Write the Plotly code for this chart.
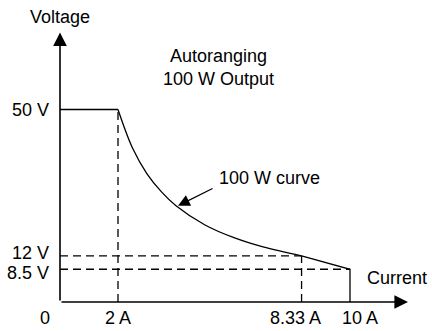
import plotly.graph_objects as go

FONT = "Arial, Liberation Sans, sans-serif"
FS = 18

# data
flat_current = [0, 2]
flat_voltage = [50, 50]
curve_current = [2, 2.5, 3, 3.5, 4, 5, 6, 7, 8.33]
curve_voltage = [50, 40, 33.3, 28.6, 25, 20, 16.7, 14.3, 12]
tail_current = [8.33, 10, 10]
tail_voltage = [12, 8.5, 0]
x_ticks = [0, 2, 8.33, 10]
x_ticktext = ["0", "2 A", "8.33 A", "10 A"]
x_label_shift = [-15, 0, -6, 10]
y_ticks = [8.5, 12, 50]
y_ticktext = ["8.5 V", "12 V", "50 V"]
y_label_shift = [-4, 3, 0]

fig = go.Figure()
line = dict(color="black", width=1.3)
dash = dict(color="black", width=1.3, dash="8px,5px")

# dashed guides
fig.add_trace(go.Scatter(x=[2, 2], y=[0, 50], mode="lines", line=dash))
fig.add_trace(go.Scatter(x=[0, 8.33], y=[12, 12], mode="lines", line=dash))
fig.add_trace(go.Scatter(x=[8.33, 8.33], y=[0, 12], mode="lines", line=dash))
fig.add_trace(go.Scatter(x=[0, 10], y=[8.5, 8.5], mode="lines", line=dash))
# solid characteristic
fig.add_trace(go.Scatter(x=flat_current, y=flat_voltage, mode="lines", line=line))
fig.add_trace(go.Scatter(x=curve_current, y=curve_voltage, mode="lines",
                         line=dict(color="black", width=1.3, shape="spline", smoothing=1.0)))
fig.add_trace(go.Scatter(x=tail_current, y=tail_voltage, mode="lines", line=line))

ann = []
# axes arrows
ann.append(dict(x=0, y=70, ax=0, ay=0, xref="x", yref="y", axref="x", ayref="y",
                text="", showarrow=True, arrowhead=2, arrowsize=1.7, arrowwidth=1.6,
                arrowcolor="black", standoff=0, startstandoff=0))
ann.append(dict(x=12.0, y=0, ax=0, ay=0, xref="x", yref="y", axref="x", ayref="y",
                text="", showarrow=True, arrowhead=2, arrowsize=1.7, arrowwidth=1.6,
                arrowcolor="black", standoff=0, startstandoff=0))
# pointer to curve
ann.append(dict(x=4.07, y=25.0, ax=36, ay=-18, xref="x", yref="y",
                text="", showarrow=True, arrowhead=2, arrowsize=1.8, arrowwidth=1.3,
                arrowcolor="black"))
# y tick labels
for v, t, s in zip(y_ticks, y_ticktext, y_label_shift):
    ann.append(dict(x=0, y=v, xref="x", yref="y", text=t, showarrow=False,
                    xanchor="right", yanchor="middle", xshift=-9, yshift=s,
                    font=dict(family=FONT, size=FS, color="black")))
# x tick labels
for v, t, s in zip(x_ticks, x_ticktext, x_label_shift):
    ann.append(dict(x=v, y=0, xref="x", yref="y", text=t, showarrow=False,
                    xanchor="center", yanchor="middle", xshift=s, yshift=-16,
                    font=dict(family=FONT, size=FS, color="black")))
texts = [
    ("Voltage", 0, 74, "center"),
    ("Autoranging<br>100 W Output", 5.45, 61.0, "center"),
    ("100 W curve", 5.4, 32.2, "left"),
    ("Current", 10.5, 6.2, "left"),
]
for t, x, y, xa in texts:
    ann.append(dict(x=x, y=y, xref="x", yref="y", text=t, showarrow=False,
                    xanchor=xa, yanchor="middle",
                    font=dict(family=FONT, size=FS, color="black")))

fig.update_layout(
    width=432, height=331,
    margin=dict(l=60, r=12, t=10, b=29, autoexpand=False),
    paper_bgcolor="white", plot_bgcolor="white",
    showlegend=False,
    annotations=ann,
    font=dict(family=FONT, size=FS, color="black"),
)
fig.update_xaxes(range=[0, 360 / 29], showgrid=False, zeroline=False, showline=False,
                 showticklabels=False, automargin=False)
fig.update_yaxes(range=[0, 292 / 3.85], showgrid=False, zeroline=False, showline=False,
                 showticklabels=False, automargin=False)

fig.write_html("out.html", config={"displayModeBar": False},
               post_script="document.body.style.margin='0';document.body.style.overflow='hidden';")
